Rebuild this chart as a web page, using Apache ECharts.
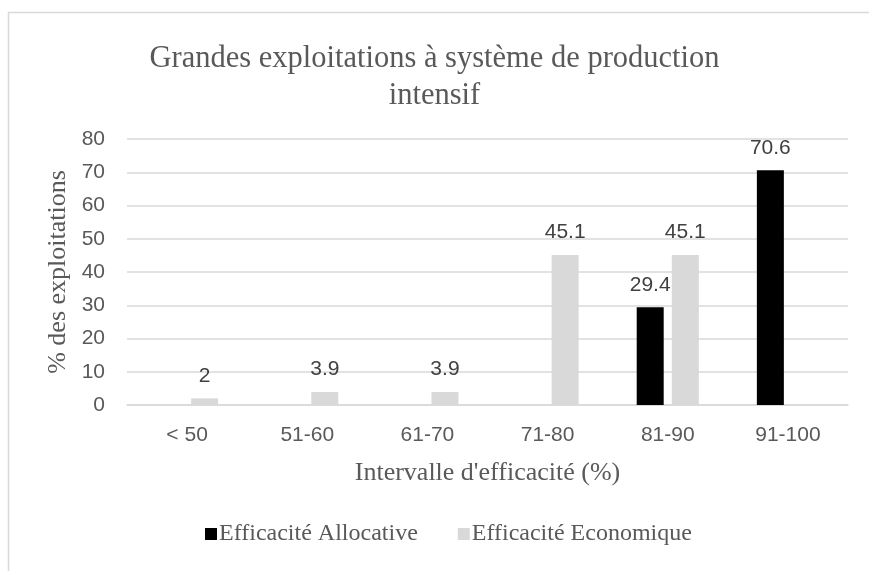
<!DOCTYPE html>
<html>
<head>
<meta charset="utf-8">
<script src="https://cdn.jsdelivr.net/npm/echarts@6/dist/echarts.min.js"></script>
<style>
html,body{margin:0;padding:0;background:#fff;}
#c{width:869px;height:571px;}
</style>
</head>
<body>
<div id="c"></div>
<script>
const categories = ['< 50', '51-60', '61-70', '71-80', '81-90', '91-100'];
const allocative = [null, null, null, null, 29.4, 70.6];
const economique = [2, 3.9, 3.9, 45.1, 45.1, null];
const seriesNames = ['Efficacité Allocative', 'Efficacité Economique'];
const titleText = 'Grandes exploitations à système de production\nintensif';
const yName = '% des exploitations';
const xName = "Intervalle d'efficacité (%)";

const serif = '"Liberation Serif", "Times New Roman", serif';
const sans = '"Liberation Sans", Arial, sans-serif';
const txt = '#595959';
const gridCol = '#d9d9d9';

const chart = echarts.init(document.getElementById('c'));
chart.setOption({
  animation: false,
  backgroundColor: '#fff',
  graphic: [{
    type: 'rect', z: -1,
    shape: {x: 8.5, y: 12.5, width: 900, height: 600},
    style: {fill: 'none', stroke: gridCol, lineWidth: 1.5}
  }],
  title: {
    text: titleText,
    left: 'center',
    top: 40,
    padding: 0,
    textStyle: {fontFamily: serif, fontSize: 30.5, lineHeight: 37, fontWeight: 'normal', color: txt, align: 'center'}
  },
  legend: {
    bottom: 20,
    left: 200,
    itemWidth: 12,
    itemHeight: 12,
    itemGap: 40,
    icon: 'rect',
    textStyle: {fontFamily: serif, fontSize: 24, color: txt, padding: [0, 0, 0, -3]},
    data: seriesNames
  },
  grid: {left: 127, right: 21, top: 139, bottom: 166, containLabel: false},
  xAxis: {
    type: 'category',
    data: categories,
    name: xName,
    nameLocation: 'middle',
    nameGap: 55,
    nameTextStyle: {fontFamily: serif, fontSize: 26, color: txt},
    axisLine: {lineStyle: {color: gridCol, width: 1.5}},
    axisTick: {show: false},
    axisLabel: {fontFamily: sans, fontSize: 21, color: txt, margin: 20}
  },
  yAxis: {
    type: 'value',
    min: 0, max: 80, interval: 10,
    name: yName,
    nameLocation: 'middle',
    nameGap: 55,
    nameRotate: 90,
    nameTextStyle: {fontFamily: serif, fontSize: 26, color: txt},
    axisLine: {show: false},
    axisTick: {show: false},
    splitLine: {lineStyle: {color: gridCol, width: 1.5}},
    axisLabel: {fontFamily: sans, fontSize: 21, color: txt, margin: 22}
  },
  series: [
    {
      name: seriesNames[0], type: 'bar', data: allocative,
      barWidth: 27, barGap: '30%',
      itemStyle: {color: '#000000'},
      label: {show: true, position: 'top', distance: 12, fontFamily: sans, fontSize: 21, color: '#404040'}
    },
    {
      name: seriesNames[1], type: 'bar', data: economique,
      barWidth: 27, barGap: '30%',
      itemStyle: {color: '#d9d9d9'},
      label: {show: true, position: 'top', distance: 12, fontFamily: sans, fontSize: 21, color: '#404040'}
    }
  ]
});
</script>
</body>
</html>
